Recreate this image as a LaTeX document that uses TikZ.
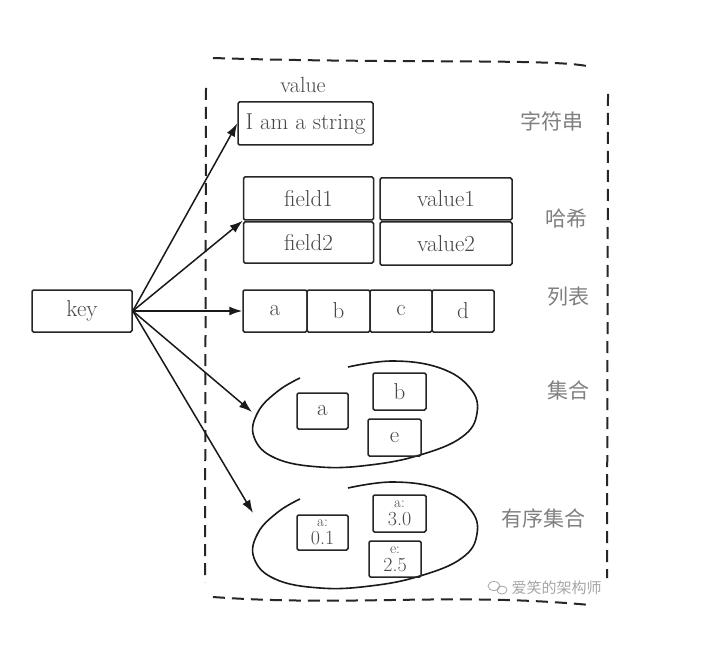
\documentclass[tikz,border=0pt]{standalone}
\usepackage{fontspec}
\newfontfamily\cjk{Noto Sans CJK SC}
\usetikzlibrary{arrows.meta}
\begin{document}
\begin{tikzpicture}[x=1pt,y=-1pt,
  box/.style={draw=black!85, line width=1.5pt, rounded corners=1.5pt, inner sep=0pt,
    font=\fontsize{23}{26}\selectfont, text=black!72},
  pair/.style={box, align=center, font=\fontsize{20}{16}\selectfont},
  lab/.style={font=\cjk\fontsize{21}{24}\selectfont, text=black!50},
  arr/.style={line width=1.5pt, draw=black!90, -{Latex[length=13pt,width=9pt]}},
  frame/.style={line width=2pt, dash pattern=on 12pt off 7pt, draw=black!85},
  blob/.style={line width=1.6pt, draw=black!90}
]
\useasboundingbox (0,0) rectangle (706,652);
\fill[white] (0,0) rectangle (706,652);

% dashed frame
\draw[frame] (213,58) .. controls (400,64) and (560,58) .. (591,67);
\draw[frame] (206,88) -- (205,582);
\draw[frame] (608,94) -- (607,578);
\draw[frame] (213,597) .. controls (350,607) and (450,592) .. (590,605);

% key
\node[box, minimum width=100pt, minimum height=42pt] (key) at (82,311) {key};

% string
\node[font=\fontsize{22}{24}\selectfont, text=black!72] (vlab) at (303,85) {value};
\node[box, minimum width=135pt, minimum height=43pt] (str) at (305.5,123.5) {I am a string};
\node[lab] (lstr) at (552,121) {字符串};

% hash
\node[box, minimum width=130pt, minimum height=43pt] (f1) at (308.5,198.5) {field1};
\node[box, minimum width=132pt, minimum height=42pt] (v1) at (446,199) {value1};
\node[box, minimum width=130pt, minimum height=41pt] (f2) at (308.5,242.5) {field2};
\node[box, minimum width=132pt, minimum height=43pt] (v2) at (446,243.5) {value2};
\node[lab] (lhash) at (566,219) {哈希};

% list
\node[box, minimum width=64pt, minimum height=42pt] (la) at (275,311) {a};
\node[box, minimum width=63pt, minimum height=42pt] (lb) at (338.5,311) {b};
\node[box, minimum width=62pt, minimum height=42pt] (lc) at (401,311) {c};
\node[box, minimum width=62pt, minimum height=42pt] (ld) at (463,311) {d};
\node[lab] (llist) at (568,297) {列表};

% set
\draw[blob] plot[smooth, tension=0.7] coordinates {(348,367) (393,361) (440,368) (470,388) (477,413) (462,437) (420,455) (370,465) (320,467) (275,458) (254,437) (258,412) (278,391) (300,378)};
\node[box, minimum width=51pt, minimum height=36pt] (sa) at (322.5,411) {a};
\node[box, minimum width=53pt, minimum height=37pt] (sb) at (399.5,391.5) {b};
\node[box, minimum width=53pt, minimum height=37pt] (se) at (394.5,437.5) {e};
\node[lab] (lset) at (568,390) {集合};
\coordinate (setL) at (252,412);

% sorted set
\begin{scope}[yshift=-121pt]
\draw[blob] plot[smooth, tension=0.7] coordinates {(348,367) (393,361) (440,368) (470,388) (477,413) (462,437) (420,455) (370,465) (320,467) (275,458) (254,437) (258,412) (278,391) (300,378)};
\end{scope}
\node[pair, minimum width=51pt, minimum height=35pt] (za) at (322.5,532.5) {{\fontsize{15}{15}\selectfont a:}\\[2pt]0.1};
\node[pair, minimum width=53pt, minimum height=37pt] (zb) at (399.5,513.5) {{\fontsize{15}{15}\selectfont a:}\\[2pt]3.0};
\node[pair, minimum width=52pt, minimum height=36pt] (ze) at (395,559) {{\fontsize{15}{15}\selectfont e:}\\[2pt]2.5};
\node[lab] (lzset) at (543,518) {有序集合};
\coordinate (zsetL) at (253,513);

% watermark
\draw[black!35, line width=0.8pt] (494,586) ellipse (6pt and 4.5pt);
\draw[black!35, line width=0.8pt] (502,590) ellipse (5pt and 4pt);
\node[font=\cjk\fontsize{15}{15}\selectfont, text=black!35, anchor=west] (wm) at (508,588) {爱笑的架构师};

% arrows
\draw[arr] (key.east) -- (str.west);
\draw[arr] (key.east) -- (f1.south west);
\draw[arr] (key.east) -- (la.west);
\draw[arr] (key.east) -- (setL);
\draw[arr] (key.east) -- (zsetL);
\end{tikzpicture}
\end{document}
